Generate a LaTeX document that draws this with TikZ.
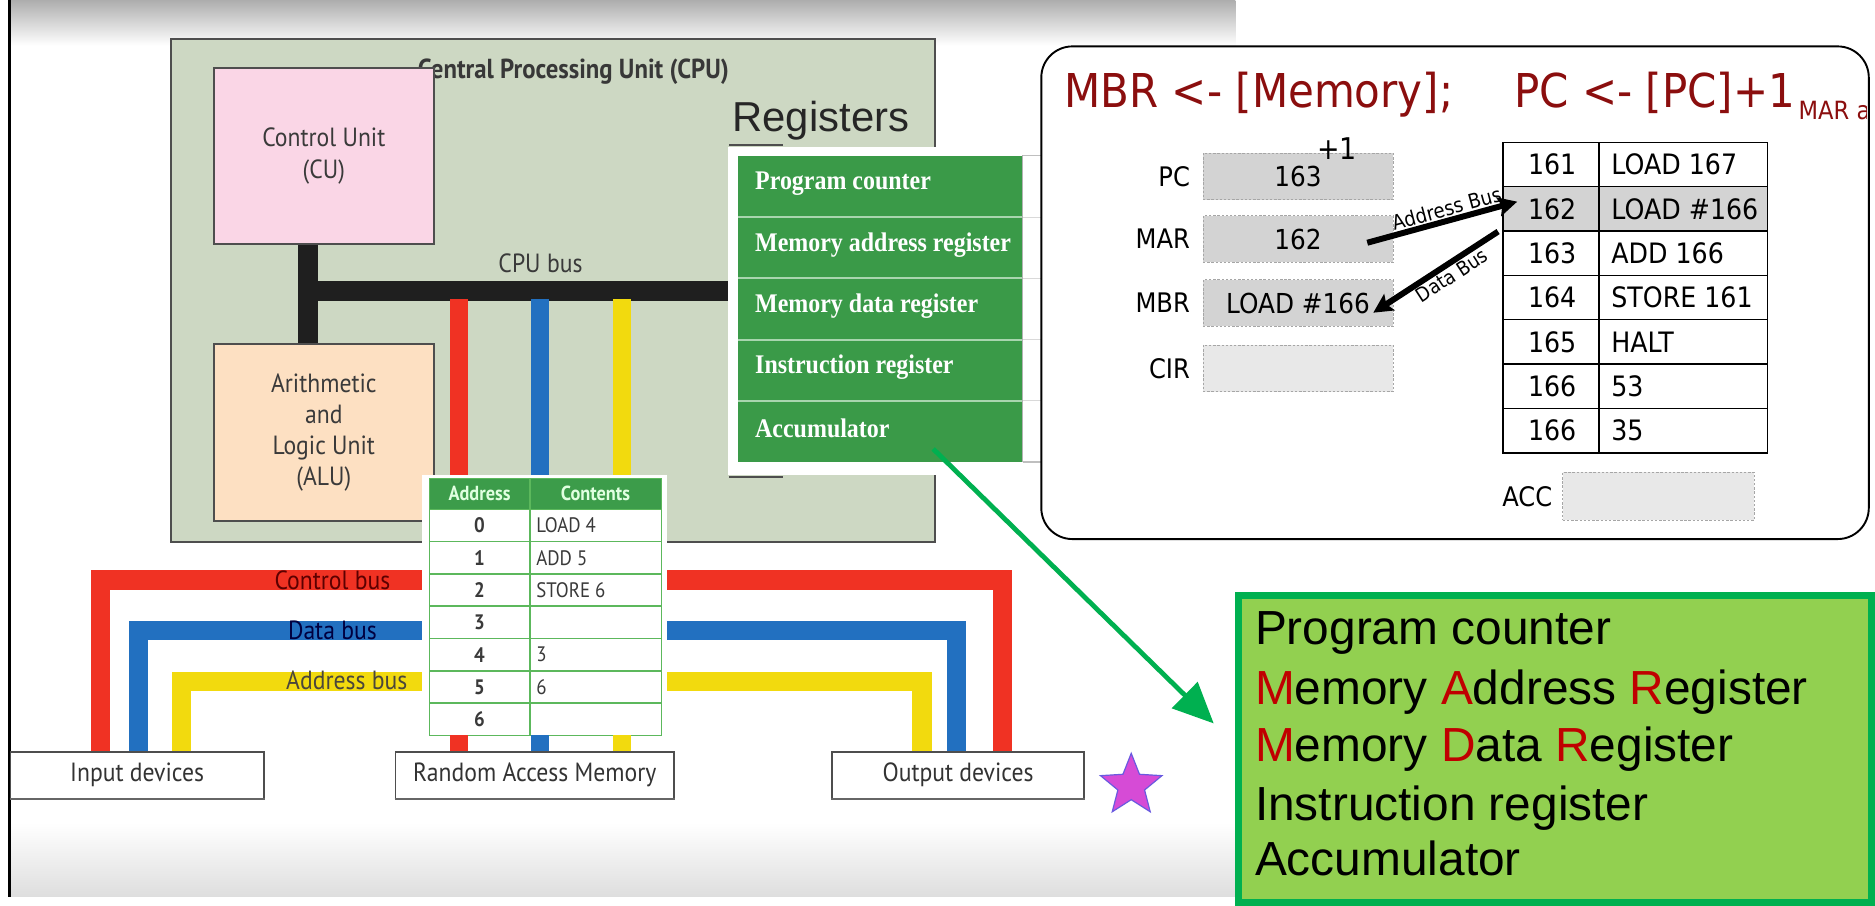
\documentclass[tikz,border=0pt]{standalone}
\usepackage{fontspec}
\setmainfont{Liberation Sans}
\newfontfamily\myriad[FakeStretch=0.9]{PT Sans}
\newfontfamily\timesb[FakeStretch=0.89]{Liberation Serif}
\newfontfamily\djv[FakeStretch=0.9]{DejaVu Sans}
\usetikzlibrary{shapes.geometric,arrows.meta,calc}

\newcommand\fsz[1]{\fontsize{#1}{#1}\selectfont}

\definecolor{cpufill}{HTML}{CDD8C3}
\definecolor{cpuedge}{HTML}{4E4E4E}
\definecolor{cupink}{HTML}{FAD6E6}
\definecolor{alupeach}{HTML}{FDE0C2}
\definecolor{busred}{HTML}{F03223}
\definecolor{busblue}{HTML}{2270C0}
\definecolor{busyellow}{HTML}{F2DA0E}
\definecolor{reggreen}{HTML}{3A9A48}
\definecolor{regline}{HTML}{A8D5AE}
\definecolor{tline}{HTML}{5CB85C}
\definecolor{tgreen}{HTML}{3C9C4A}
\definecolor{inktext}{HTML}{3A3A3A}
\definecolor{titlered}{HTML}{8B0E0E}
\definecolor{gfill}{HTML}{92D050}
\definecolor{gedge}{HTML}{00B050}
\definecolor{starfill}{HTML}{D64BD6}
\definecolor{staredge}{HTML}{6A5AE0}
\definecolor{cellgray}{HTML}{D3D3D3}
\definecolor{cellpale}{HTML}{E8E8E8}
\definecolor{redletter}{HTML}{C00000}

\begin{document}
\begin{tikzpicture}[x=1pt,y=-1pt,
  unitbox/.style={draw=cpuedge, line width=1.6, minimum width=184, minimum height=147,
    anchor=north west, inner sep=0},
  unittext/.style={font=\myriad\fsz{22}, text=inktext, align=center},
  devbox/.style={draw=cpuedge, line width=1.4, fill=white, minimum height=39,
    anchor=north west, inner sep=0, font=\myriad\fsz{22}, text=black!80},
  cpubus/.style={line width=17, draw=black!88},
  colbus/.style={line width=15, draw=#1},
  sysbus/.style={line width=16, draw=#1, line join=miter},
  buslabel/.style={font=\myriad\fsz{22}, text=#1},
  regrow/.style={fill=reggreen, minimum width=238, minimum height=51.2,
    anchor=north west, inner sep=0},
  regtext/.style={anchor=west, text=white, font=\timesb\bfseries\fsz{22.5}},
  memnum/.style={font=\myriad\bfseries\fsz{17.5}, text=inktext},
  memtext/.style={font=\myriad\fsz{17.5}, text=inktext, anchor=west},
  regbox/.style={draw=black!35, dashed, dash pattern=on 2pt off 1.5pt, line width=0.8,
    minimum width=159, minimum height=39, inner sep=0, font=\djv\fsz{23}},
  reglabel/.style={anchor=east, font=\djv\fsz{22.5}},
  rcell/.style={font=\djv\fsz{23.5}},
  busarrow/.style={line width=5, draw=black, -{Stealth[length=16,width=16,inset=3]}},
  gline/.style={anchor=base west, font=\fsz{40}}
]
\useasboundingbox (0,0) rectangle (1568,757);
\fill[white] (0,0) rectangle (1568,757);

% screenshot backdrop: shaded top and bottom bands and left rule
\shade[top color=black!32, bottom color=white] (8,0) rectangle (1033,38);
\shade[top color=white, bottom color=black!13] (8,688) rectangle (1033,750);
\draw[line width=2, black] (8,0) -- (8,750);

% CPU enclosure
\node[draw=cpuedge, line width=1.8, fill=cpufill, minimum width=639, minimum height=420,
  anchor=north west, inner sep=0] (cpu) at (142,32) {};
\node[anchor=base west, font=\myriad\bfseries\fsz{23}, text=black!78] (cputitle) at (346,66)
  {Central Processing Unit (CPU)};

% control unit and ALU
\node[unitbox, fill=cupink] (cu) at (178,56) {};
\node[unittext] (cutext) at (cu.center) {Control Unit\\[5pt](CU)};
\node[unitbox, fill=alupeach, minimum height=148] (alu) at (178,287) {};
\node[unittext] (alutext) at (alu.center) {Arithmetic\\[4pt]and\\[4pt]Logic Unit\\[4pt](ALU)};

% internal CPU bus
\coordinate (busT) at ($(cu.south)+(-13,0)$);
\coordinate (busB) at ($(alu.north)+(-13,0)$);
\draw[cpubus] (busT) -- (busB);
\coordinate (busL) at ($(busT)!0.47!(busB)$);
\draw[cpubus] ($(busL)+(-8,0)$) -- (620,242 |- busL);
\node[font=\myriad\fsz{22}, text=inktext] (cpubuslbl) at (452,220) {CPU bus};

% colour taps from the CPU bus down to memory
\draw[colbus=busred]    (383.5,250) -- (383.5,400);
\draw[colbus=busblue]   (451.5,250) -- (451.5,400);
\draw[colbus=busyellow] (520.5,250) -- (520.5,400);

% system buses
\draw[sysbus=busred]    (84,628) -- (84,485) -- (362,485);
\draw[sysbus=busred]    (550,485) -- (838,485) -- (838,628);
\draw[sysbus=busblue]   (116,628) -- (116,527) -- (362,527);
\draw[sysbus=busblue]   (550,527) -- (800,527) -- (800,628);
\draw[sysbus=busyellow] (152,628) -- (152,570) -- (362,570);
\draw[sysbus=busyellow] (550,570) -- (771,570) -- (771,628);
\node[buslabel=black!55!red!80!black] (cbus) at (278,485) {Control bus};
\node[buslabel=black!75!blue] (dbus) at (278,527) {Data bus};
\node[buslabel=black!70!yellow!60!black] (abus) at (290,569) {Address bus};

% memory table
\fill[white] (353,397) rectangle (558,618);
\fill[tgreen] (359,400) rectangle (553,426);
\node[font=\myriad\bfseries\fsz{17}, text=white!88!green] (hA) at (401,413) {Address};
\node[font=\myriad\bfseries\fsz{17}, text=white!88!green] (hC) at (498,413) {Contents};
\foreach \n/\c [count=\i from 0] in {0/LOAD 4,1/ADD 5,2/STORE 6,3/,4/3,5/6,6/} {
  \node[memnum] (ma\i) at (401,{439.5+27*\i}) {\n};
  \node[memtext] (mc\i) at (445,{439.5+27*\i}) {\c};
}
\draw[tline, line width=1.3] (359,400) rectangle (553,615);
\draw[tline, line width=1.3] (443,400) -- (443,615);
\foreach \k in {0,...,6} \draw[tline, line width=1.3] (359,{426+27*\k}) -- (553,{426+27*\k});

% taps below the memory table
\draw[colbus=busred]    (383.5,615) -- (383.5,628);
\draw[colbus=busblue]   (451.5,615) -- (451.5,628);
\draw[colbus=busyellow] (520.5,615) -- (520.5,628);

% devices
\node[devbox, minimum width=212] (inp) at (8,628) {Input devices};
\node[devbox, minimum width=233] (ram) at (330,628) {Random Access Memory};
\node[devbox, minimum width=211] (outp) at (695,628) {Output devices};
\draw[black!60, line width=1.5] (inp.south west) -- (inp.south east);
\draw[black!60, line width=1.5] (ram.south west) -- (ram.south east);
\draw[black!60, line width=1.5] (outp.south west) -- (outp.south east);

% registers panel
\node[anchor=base west, font=\fsz{35}, text=black!85] (regtitle) at (609,110) {Registers};
\draw[cpuedge, line width=1.5] (610,121) -- (655,121);
\draw[cpuedge, line width=1.5] (610,399) -- (655,399);
\fill[white] (609,123) rectangle (880,397);
\foreach \t [count=\i] in {Program counter,Memory address register,Memory data register,Instruction register,Accumulator} {
  \node[regrow] (r\i) at (617,{130+51.2*(\i-1)}) {};
  \node[regtext] (rt\i) at ($(r\i.west)+(11,-2)$) {\t};
}
\foreach \i in {1,...,4} {
  \draw[regline, line width=1.5] (r\i.south west) -- (r\i.south east);
  \draw[black!15, line width=1] (r\i.south east) -- ++(20,0);
}
\draw[black!25, line width=1] (r1.north east) -- ++(20,0);
\draw[black!25, line width=1] (r5.south east) -- ++(20,0);
\draw[black!30, line width=1] (r1.north east) -- (r5.south east);

% fetch-cycle panel
\node[draw=black, line width=1.6, fill=white, rounded corners=26, minimum width=692,
  minimum height=412, anchor=north west, inner sep=0] (panel) at (870,38) {};
\begin{scope}
  \clip[rounded corners=26] (871,39) rectangle (1561,449);
  \node[anchor=base west, font=\djv\fsz{39}, text=titlered, inner sep=0] (t1) at (890,90) {MBR <- [Memory];};
  \node[anchor=base west, font=\djv\fsz{39}, text=titlered, inner sep=0] (t2) at (1266,90) {PC <- [PC]+1};
  \node[anchor=base west, font=\djv\fsz{21}, text=titlered, inner sep=0] (t3) at (1504,100) {MAR a};
\end{scope}

\node[regbox, fill=cellgray] (pc)  at (1085.5,147.5) {163};
\node[regbox, fill=cellgray] (mar) at (1085.5,200) {162};
\node[regbox, fill=cellgray] (mbr) at (1085.5,253.5) {LOAD \#166};
\node[regbox, fill=cellpale] (cir) at (1085.5,308) {};
\node[reglabel] (pcl)  at ($(pc.west)+(-7,0)$) {PC};
\node[reglabel] (marl) at ($(mar.west)+(-7,0)$) {MAR};
\node[reglabel] (mbrl) at ($(mbr.west)+(-7,0)$) {MBR};
\node[reglabel] (cirl) at ($(cir.west)+(-7,0)$) {CIR};
\node[font=\djv\fsz{25}, inner sep=0] (inc) at (1118,124) {+1};

% main memory contents
\fill[cellgray] (1257,156.1) rectangle (1478,193.2);
\foreach \a/\c [count=\i from 0] in {161/LOAD 167,162/LOAD \#166,163/ADD 166,164/STORE 161,165/HALT,166/53,166/35} {
  \node[rcell, minimum width=80, inner sep=0] (ra\i) at (1298,{137.55+37.1*\i}) {\a};
  \node[rcell, anchor=west] (rc\i) at (1344,{137.55+37.1*\i}) {\c};
}
\draw[black, line width=1.2] (1257,119) rectangle (1478,378.7);
\draw[black, line width=1.2] (1337,119) -- (1337,378.7);
\foreach \k in {1,...,6} \draw[black, line width=1.2] (1257,{119+37.1*\k}) -- (1478,{119+37.1*\k});

\node[regbox, fill=cellpale, minimum width=160, minimum height=40] (acc) at (1387,415) {};
\node[reglabel] (accl) at ($(acc.west)+(-5,0)$) {ACC};

% bus transfers
\draw[busarrow] ($(mar.east)+(-22,3)$) --
  node[sloped, above, font=\djv\fsz{17}, inner sep=1pt, pos=0.55] {Address Bus}
  ($(ra1.west)+(11,-6)$);
\draw[busarrow] ($(ra1.west)+(-5,19)$) --
  node[sloped, below, font=\djv\fsz{16.5}, inner sep=1pt, pos=0.42] {Data Bus}
  ($(mbr.east)+(-17,8)$);

% summary box
\node[draw=gedge, line width=6, fill=gfill, minimum width=529, minimum height=257,
  anchor=north west, inner sep=0] (gbox) at (1033,495) {};
\node[gline] (g1) at (1046,539) {Program counter};
\node[gline] (g2) at (1046,589) {\textcolor{redletter}{M}emory \textcolor{redletter}{A}ddress \textcolor{redletter}{R}egister};
\node[gline] (g3) at (1046,637) {\textcolor{redletter}{M}emory \textcolor{redletter}{D}ata \textcolor{redletter}{R}egister};
\node[gline] (g4) at (1046,686) {Instruction register};
\node[gline] (g5) at (1046,732) {Accumulator};

% pointer from the accumulator row to the summary
\draw[line width=4, gedge, -{Triangle[length=34,width=30]}]
  ($(r5.south east)+(-75,-11)$) -- ($(gbox.north west)+(-18,110)$);

% star marker
\node[star, star points=5, star point ratio=2.3, fill=starfill, draw=staredge, line width=1,
  minimum size=54, inner sep=0] (mark) at (946,657) {};
\end{tikzpicture}
\end{document}
